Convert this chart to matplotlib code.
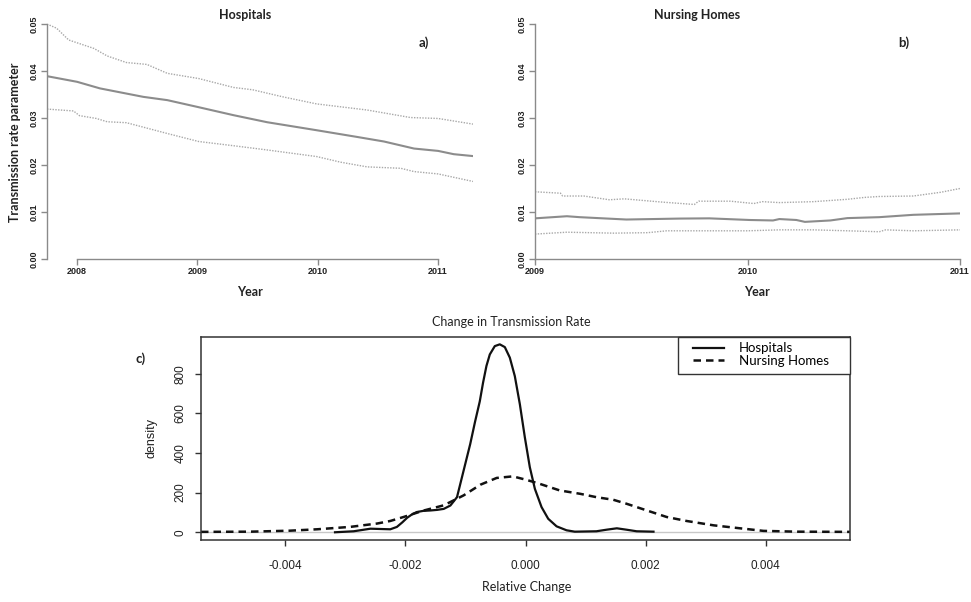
import numpy as np
import matplotlib
matplotlib.use("Agg")
import matplotlib.pyplot as plt
from matplotlib.patches import Rectangle

# ---------------- data ----------------
# a) Hospitals: transmission rate parameter over time
hosp_year = [2007.75, 2008.00, 2008.19, 2008.41, 2008.55, 2008.75, 2009.01, 2009.30,
             2009.58, 2009.99, 2010.32, 2010.55, 2010.80, 2011.00, 2011.13, 2011.29]
hosp_mean = [0.0389, 0.0377, 0.0363, 0.0352, 0.0345, 0.0338, 0.0323, 0.0306,
             0.0291, 0.0274, 0.0260, 0.0250, 0.0235, 0.0230, 0.0223, 0.0219]
hosp_up_year = [2007.75, 2007.83, 2007.93, 2008.14, 2008.25, 2008.41, 2008.58, 2008.75,
                2009.01, 2009.30, 2009.46, 2009.71, 2009.99, 2010.41, 2010.77, 2011.00, 2011.29]
hosp_upper = [0.0500, 0.0491, 0.0466, 0.0448, 0.0432, 0.0418, 0.0414, 0.0395,
              0.0384, 0.0365, 0.0360, 0.0345, 0.0330, 0.0317, 0.0301, 0.0299, 0.0287]
hosp_lo_year = [2007.75, 2007.97, 2008.02, 2008.16, 2008.25, 2008.41, 2008.75, 2009.01,
                2009.30, 2009.58, 2009.99, 2010.19, 2010.41, 2010.69, 2010.80, 2011.00, 2011.29]
hosp_lower = [0.0319, 0.0315, 0.0305, 0.0299, 0.0292, 0.0290, 0.0267, 0.0250,
              0.0241, 0.0232, 0.0218, 0.0206, 0.0196, 0.0193, 0.0186, 0.0181, 0.0165]

# b) Nursing homes
nh_year = [2009.00, 2009.15, 2009.21, 2009.43, 2009.68, 2009.82, 2010.01, 2010.12,
           2010.15, 2010.23, 2010.27, 2010.39, 2010.47, 2010.62, 2010.78, 2011.00]
nh_mean = [0.00865, 0.0091, 0.0089, 0.0084, 0.0086, 0.00865, 0.0083, 0.0082,
           0.0085, 0.0083, 0.0079, 0.0082, 0.0087, 0.0089, 0.0094, 0.0097]
nh_up_year = [2009.00, 2009.12, 2009.13, 2009.23, 2009.35, 2009.42, 2009.60, 2009.75,
              2009.77, 2009.92, 2010.03, 2010.07, 2010.15, 2010.31, 2010.47, 2010.55,
              2010.62, 2010.78, 2010.91, 2011.00]
nh_upper = [0.0143, 0.0140, 0.0134, 0.0134, 0.0126, 0.0128, 0.0121, 0.0116,
            0.0123, 0.0123, 0.0118, 0.0122, 0.0120, 0.0122, 0.0127, 0.0131,
            0.0133, 0.0134, 0.0142, 0.0150]
nh_lo_year = [2009.00, 2009.15, 2009.37, 2009.53, 2009.62, 2010.00, 2010.15, 2010.31,
              2010.47, 2010.62, 2010.65, 2010.78, 2011.00]
nh_lower = [0.0053, 0.0057, 0.0055, 0.0056, 0.0060, 0.0060, 0.0062, 0.0062,
            0.0060, 0.0058, 0.0062, 0.0060, 0.0062]

# c) density of relative change
hd_x = [-0.00317, -0.00286, -0.00258, -0.00225, -0.00214, -0.00205, -0.00197, -0.00189,
        -0.00181, -0.00170, -0.00158, -0.00147, -0.00136, -0.00125, -0.00114, -0.00103,
        -0.00092, -0.00084, -0.000761, -0.000706, -0.00065, -0.000594, -0.000511,
        -0.000428, -0.000344, -0.000261, -0.000178, -0.000094, -0.000011, 0.000072,
        0.000156, 0.000267, 0.000378, 0.000517, 0.000683, 0.00082, 0.00118, 0.00135,
        0.00152, 0.00168, 0.00185, 0.00213]
hd_y = [0, 5, 18, 15, 27, 50, 73, 90, 102, 108, 110, 113, 118, 135, 177, 311,
        445, 557, 660, 755, 839, 897, 939, 948, 934, 881, 788, 646, 479, 328,
        219, 127, 68, 30, 10, 3, 5, 13, 20, 13, 5, 3]
nd_x = [-0.0054, -0.00458, -0.00392, -0.00347, -0.00292, -0.00247, -0.00225, -0.00203,
        -0.00169, -0.00136, -0.00103, -0.00075, -0.00048, -0.00021, 0.00002, 0.00024,
        0.00057, 0.00091, 0.00118, 0.00146, 0.00168, 0.00202, 0.00235, 0.00268,
        0.00313, 0.00357, 0.00396, 0.00452, 0.0054]
nd_y = [2, 3, 8, 15, 27, 44, 57, 77, 110, 136, 186, 240, 274, 282, 264, 244,
        211, 194, 177, 164, 144, 110, 77, 57, 35, 20, 7, 3, 2]

W, H = 971, 602
LABEL_FONT = "Lato"
TICK_FONT = "Liberation Sans"

def fx(px):
    return px / W

def fy(py):
    return 1 - py / H

fig = plt.figure(figsize=(W / 100, H / 100), dpi=100)

gray_axis = "#8a8a8a"
gray_line = "#8c8c8c"
gray_ci = "#a8a8a8"

def top_panel(rect, xb, xticks, xlim):
    ax = fig.add_axes(rect)
    ax.set_xlim(*xlim)
    ax.set_ylim(0, 0.05)
    for s in ["top", "right"]:
        ax.spines[s].set_visible(False)
    for s in ["left", "bottom"]:
        ax.spines[s].set_color(gray_axis)
        ax.spines[s].set_linewidth(1.0)
    ax.spines["left"].set_bounds(0, 0.05)
    ax.spines["bottom"].set_bounds(xb[0], xb[1])
    ax.set_xticks(xticks)
    ax.set_xticklabels([str(t) for t in xticks])
    ax.set_yticks([0, 0.01, 0.02, 0.03, 0.04, 0.05])
    ax.set_yticklabels(["0.00", "0.01", "0.02", "0.03", "0.04", "0.05"], rotation=90, va="center")
    ax.tick_params(direction="out", length=4, width=1, color=gray_axis, labelsize=6.5,
                   pad=2)
    for lab in ax.get_xticklabels() + ax.get_yticklabels():
        lab.set_fontweight("bold")
        lab.set_fontfamily(TICK_FONT)
        lab.set_color("#222222")
    return ax

# panel a
axa = top_panel([fx(47), fy(259), fx(473) - fx(47), fy(24) - fy(259)],
                (2008, 2011), [2008, 2009, 2010, 2011], (2007.75, 2011.29))
axa.plot(hosp_year, hosp_mean, color=gray_line, lw=1.5)
axa.plot(hosp_up_year, hosp_upper, color=gray_ci, lw=1.0, ls=(0, (1, 1)))
axa.plot(hosp_lo_year, hosp_lower, color=gray_ci, lw=1.0, ls=(0, (1, 1)))

# panel b
axb = top_panel([fx(535), fy(259), fx(960) - fx(535), fy(24) - fy(259)],
                (2009, 2011), [2009, 2010, 2011], (2009, 2011))
axb.plot(nh_year, nh_mean, color=gray_line, lw=1.5)
axb.plot(nh_up_year, nh_upper, color=gray_ci, lw=1.0, ls=(0, (1, 1)))
axb.plot(nh_lo_year, nh_lower, color=gray_ci, lw=1.0, ls=(0, (1, 1)))

# top labels
fig.text(fx(245), fy(15), "Hospitals", family=LABEL_FONT, fontsize=9, fontweight="bold",
         ha="center", va="center", color="#222222")
fig.text(fx(697), fy(15), "Nursing Homes", family=LABEL_FONT, fontsize=9, fontweight="bold",
         ha="center", va="center", color="#222222")
fig.text(fx(424), fy(43), "a)", family=LABEL_FONT, fontsize=9.5, fontweight="bold",
         ha="center", va="center", color="#222222")
fig.text(fx(904), fy(43), "b)", family=LABEL_FONT, fontsize=9.5, fontweight="bold",
         ha="center", va="center", color="#222222")
fig.text(fx(15), fy(142), "Transmission rate parameter", family=LABEL_FONT, fontsize=9,
         fontweight="bold", rotation=90, ha="center", va="center", color="#222222")
fig.text(fx(250), fy(292), "Year", family=LABEL_FONT, fontsize=9, fontweight="bold",
         ha="center", va="center", color="#222222")
fig.text(fx(757), fy(292), "Year", family=LABEL_FONT, fontsize=9, fontweight="bold",
         ha="center", va="center", color="#222222")

# panel c
axc = fig.add_axes([fx(201), fy(540), fx(850) - fx(201), fy(337) - fy(540)])
axc.set_xlim(-0.0054, 0.0054)
axc.set_ylim(-39, 985)
axc.axhline(0, color="#c8c8c8", lw=1.0, zorder=1)
axc.plot(hd_x, hd_y, color="#111111", lw=1.6, label="Hospitals", zorder=3)
axc.plot(nd_x, nd_y, color="#111111", lw=1.8, ls=(0, (3, 2)), label="Nursing Homes", zorder=2)
for s in axc.spines.values():
    s.set_color("#333333")
    s.set_linewidth(1.1)
axc.set_xticks([-0.004, -0.002, 0.0, 0.002, 0.004])
axc.set_xticklabels(["-0.004", "-0.002", "0.000", "0.002", "0.004"])
axc.set_yticks([0, 200, 400, 600, 800])
axc.set_yticklabels(["0", "200", "400", "600", "800"], rotation=90, va="center")
axc.tick_params(direction="out", length=4.5, width=1, color="#333333", labelsize=8.5)
axc.tick_params(axis="x", pad=10)
axc.tick_params(axis="y", pad=6)
for lab in axc.get_xticklabels() + axc.get_yticklabels():
    lab.set_fontfamily(TICK_FONT)
    lab.set_color("#222222")

# legend box drawn separately (R's legend box is wider than its text)
box_l = (678 - 201) / (850 - 201)
box_b = (540 - 374) / (540 - 337)
axc.add_patch(Rectangle((box_l, box_b), 1 - box_l, 1 - box_b, transform=axc.transAxes,
                        facecolor="white", edgecolor="#333333", lw=1.0, zorder=4,
                        clip_on=False))
leg = axc.legend(loc="upper left", bbox_to_anchor=((688 - 201) / (850 - 201), 1.0),
                 borderaxespad=0, frameon=False, handlelength=2.3, handletextpad=1.15,
                 borderpad=0.4, labelspacing=0.05,
                 prop={"family": LABEL_FONT, "size": 9.5})
leg.set_zorder(5)

fig.text(fx(511), fy(322), "Change in Transmission Rate", family=LABEL_FONT, fontsize=9,
         ha="center", va="center", color="#222222")
fig.text(fx(527), fy(587), "Relative Change", family=LABEL_FONT, fontsize=9,
         ha="center", va="center", color="#222222")
fig.text(fx(152), fy(438), "density", family=TICK_FONT, fontsize=9, rotation=90,
         ha="center", va="center", color="#222222")
fig.text(fx(141), fy(359), "c)", family=LABEL_FONT, fontsize=9.5, fontweight="bold",
         ha="center", va="center", color="#222222")

fig.savefig("out.png", dpi=100)
